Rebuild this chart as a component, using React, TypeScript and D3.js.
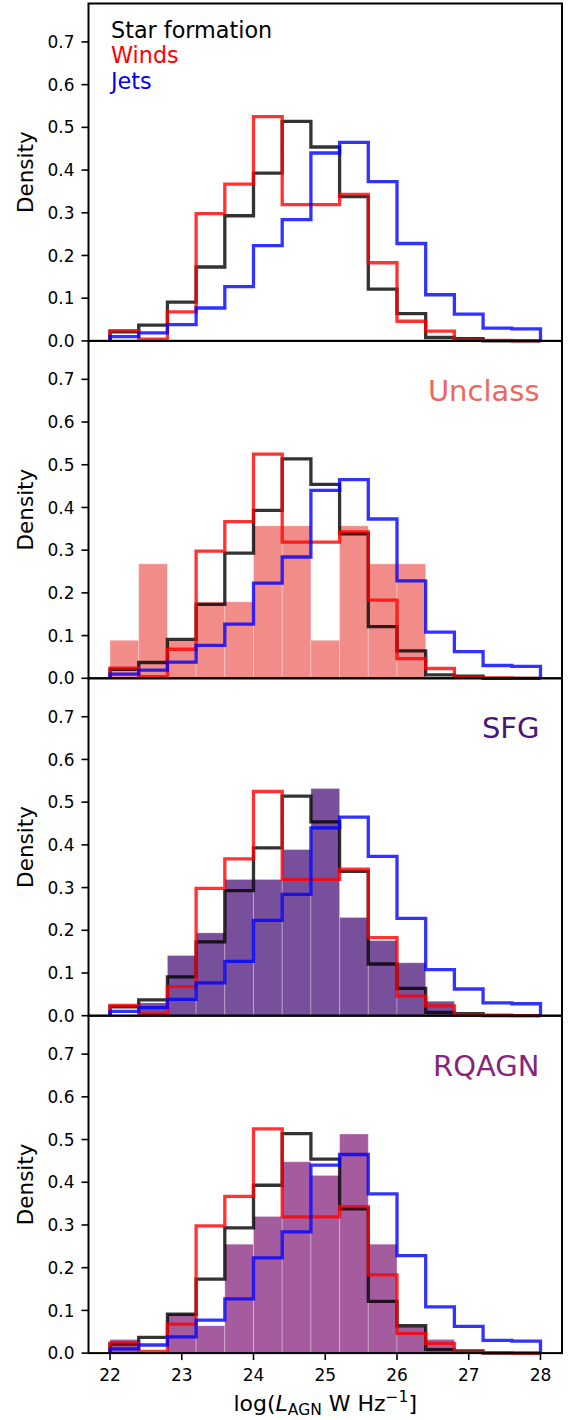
import React from "react";
import * as d3 from "d3";

// ---- data ----
const binEdges = [22, 22.4, 22.8, 23.2, 23.6, 24.0, 24.4, 24.8, 25.2, 25.6, 26.0, 26.4, 26.8, 27.2, 27.6, 28.0];
const starFormation = [0.021, 0.037, 0.091, 0.173, 0.293, 0.393, 0.514, 0.454, 0.338, 0.121, 0.064, 0.008, 0.005, 0, 0];
const winds = [0.024, 0.004, 0.068, 0.298, 0.367, 0.525, 0.319, 0.319, 0.343, 0.183, 0.046, 0.023, 0.002, 0.001, 0];
const jets = [0.010, 0.019, 0.038, 0.077, 0.127, 0.223, 0.284, 0.44, 0.465, 0.373, 0.228, 0.108, 0.0625, 0.030, 0.028];
const unclass = [0.089, 0.268, 0.089, 0.179, 0.179, 0.357, 0.357, 0.089, 0.357, 0.268, 0.268, 0, 0, 0, 0];
const sfg = [0, 0.03, 0.141, 0.194, 0.319, 0.319, 0.389, 0.532, 0.23, 0.176, 0.124, 0.034, 0, 0, 0];
const rqagn = [0.032, 0, 0.092, 0.064, 0.255, 0.32, 0.448, 0.416, 0.513, 0.255, 0.062, 0.032, 0, 0, 0];
const xTicks = [22, 23, 24, 25, 26, 27, 28];
const yTicks = [0, 0.1, 0.2, 0.3, 0.4, 0.5, 0.6, 0.7];
const stepSeries = [
  { name: "Star formation", values: starFormation, color: "#000000" },
  { name: "Winds", values: winds, color: "#ff0000" },
  { name: "Jets", values: jets, color: "#0000ff" },
];
const panels = [
  { label: "", values: null as number[] | null, color: "" },
  { label: "Unclass", values: unclass, color: "#ee6660" },
  { label: "SFG", values: sfg, color: "#4a1478" },
  { label: "RQAGN", values: rqagn, color: "#87257d" },
];

// ---- layout ----
const W = 569;
const H = 1420;
const left = 88.5;
const right = 562;
const top0 = 3.5;
const panelH = 337.4;
const FONT = "DejaVu Sans, sans-serif";

const x = d3.scaleLinear().domain([21.7, 28.3]).range([left, right]);

function stepPath(values: number[], y: d3.ScaleLinear<number, number>) {
  const pts: [number, number][] = [[binEdges[0], 0]];
  values.forEach((v, i) => {
    pts.push([binEdges[i], v]);
    pts.push([binEdges[i + 1], v]);
  });
  pts.push([binEdges[binEdges.length - 1], 0]);
  const line = d3
    .line<[number, number]>()
    .x((d) => x(d[0]))
    .y((d) => y(d[1]));
  return line(pts) || "";
}

function Panel({ idx }: { idx: number }) {
  const p = panels[idx];
  const t = top0 + idx * panelH;
  const b = t + panelH;
  const y = d3.scaleLinear().domain([0, 0.79]).range([b, t]);
  const isLast = idx === panels.length - 1;
  return (
    <g>
      {p.values &&
        p.values.map((v, i) =>
          v > 0 ? (
            <rect
              key={i}
              x={x(binEdges[i])}
              y={y(v)}
              width={x(binEdges[i + 1]) - x(binEdges[i])}
              height={y(0) - y(v)}
              fill={p.color}
              fillOpacity={0.75}
              stroke="#ffffff"
              strokeOpacity={0.3}
              strokeWidth={1}
            />
          ) : null
        )}
      {stepSeries.map((s) => (
        <path
          key={s.name}
          d={stepPath(s.values, y)}
          fill="none"
          stroke={s.color}
          strokeOpacity={0.8}
          strokeWidth={3.3}
          strokeLinejoin="miter"
        />
      ))}
      {/* frame */}
      <rect x={left} y={t} width={right - left} height={panelH} fill="none" stroke="#000" strokeWidth={2} />
      {/* y ticks */}
      {yTicks.map((v) => (
        <g key={v}>
          <line x1={left - 7} x2={left} y1={y(v)} y2={y(v)} stroke="#000" strokeWidth={1.6} />
          <text x={left - 14} y={y(v)} dy="0.36em" textAnchor="end" fontSize={17} fontFamily={FONT} fill="#000">
            {v.toFixed(1)}
          </text>
        </g>
      ))}
      <text
        transform={`translate(25,${(t + b) / 2}) rotate(-90)`}
        textAnchor="middle"
        dy="0.36em"
        fontSize={21.5}
        fontFamily={FONT}
        fill="#000"
      >
        Density
      </text>
      {p.label && (
        <text x={539.5} y={t + 60} textAnchor="end" fontSize={29} fontFamily={FONT} fill={p.color}>
          {p.label}
        </text>
      )}
      {idx === 0 &&
        stepSeries.map((s, i) => (
          <text key={s.name} x={111} y={37.5 + i * 25.5} fontSize={22.3} fontFamily={FONT} fill={s.color}>
            {s.name}
          </text>
        ))}
      {isLast &&
        xTicks.map((v) => (
          <g key={v}>
            <line x1={x(v)} x2={x(v)} y1={b} y2={b + 7} stroke="#000" strokeWidth={1.6} />
            <text x={x(v)} y={1381} textAnchor="middle" fontSize={17} fontFamily={FONT} fill="#000">
              {v}
            </text>
          </g>
        ))}
    </g>
  );
}

export default function App() {
  return (
    <svg
      width={W}
      height={H}
      viewBox={`0 0 ${W} ${H}`}
      style={{ position: "absolute", left: 0, top: 0, background: "#fff" }}
    >
      <rect x={0} y={0} width={W} height={H} fill="#fff" />
      {panels.map((_, i) => (
        <Panel key={i} idx={i} />
      ))}
      <text x={(left + right) / 2} y={1411} textAnchor="middle" fontSize={22} fontFamily={FONT} fill="#000">
        log(
        <tspan fontStyle="italic">L</tspan>
        <tspan fontSize={15.5} dy={4}>AGN</tspan>
        <tspan dy={-4}> W Hz</tspan>
        <tspan fontSize={15.5} dy={-9}>−1</tspan>
        <tspan dy={9}>]</tspan>
      </text>
    </svg>
  );
}
